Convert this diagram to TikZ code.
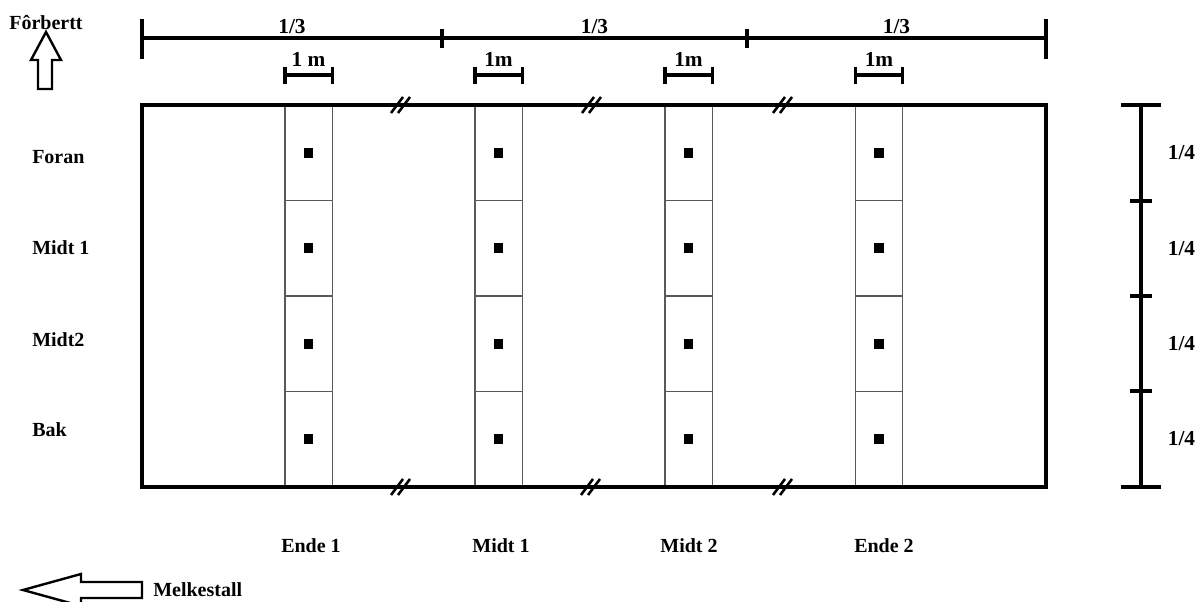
\documentclass[tikz,border=0pt]{standalone}
\usepackage{fontspec}
\setmainfont{Liberation Serif}
\usetikzlibrary{positioning}

\begin{document}
\begin{tikzpicture}[
            x=0.75pt, y=-0.75pt,
            lbl/.style={font=\fontsize{15}{17}\selectfont\bfseries, inner sep=0pt},
            num/.style={font=\fontsize{16}{19}\selectfont\bfseries, inner sep=1pt},
            field/.style={draw, line width=2.4pt},
            cell/.style={draw=black!65, line width=0.8pt, minimum width=35.3pt, minimum height=71.6pt, inner sep=0pt, outer sep=0pt},
            sample/.style={fill=black, minimum size=7.2pt, inner sep=0pt},
            dim/.style={line width=2.3pt},
            brk/.style={line width=1.9pt},
            blockarrow/.style={draw, line width=1.8pt, fill=white}
        ]

        \useasboundingbox (0,0) rectangle (1197,602);

        % sample cells, four strips of four
        \foreach \c/\x in {a/308.5, b/498.5, c/688.5, d/879}
            \foreach \r/\y in {1/152.75, 2/248.25, 3/343.75, 4/439.25}
            {
                \node[cell] (\c\r) at (\x,\y) {};
                \node[sample] at (\c\r.center) {};
            }

        \draw[field] (142,105) rectangle (1046,487);

        % break marks
        \foreach \x/\y in {400/105, 591/105, 782/105, 400/487, 590/487, 782/487}
        {
            \draw[brk] (\x-9,\y+8) -- ++(12,-16);
            \draw[brk] (\x-2,\y+8) -- ++(12,-16);
        }

        % length in thirds
        \coordinate (t0) at (142,38);
        \coordinate (t1) at (442,38);
        \coordinate (t2) at (747,38);
        \coordinate (t3) at (1046,38);
        \draw[dim] (t0) -- node[num, above=1pt] {1/3} (t1)
                        -- node[num, above=1pt] {1/3} (t2)
                        -- node[num, above=1pt] {1/3} (t3);
        \draw[dim] (t0) ++(0,-19) -- ++(0,40);
        \draw[dim] (t3) ++(0,-19) -- ++(0,40);
        \draw[dim] (t1) ++(0,-9) -- ++(0,19);
        \draw[dim] (t2) ++(0,-9) -- ++(0,19);

        % 1 m strips
        \coordinate (scaleY) at (0,75);
        \foreach \c/\t in {a/1 m, b/1m, c/1m, d/1m}
        {
            \draw[dim] (\c1.north west |- scaleY) -- node[num, above=4pt] {\t} (\c1.north east |- scaleY);
            \draw[dim] (\c1.north west |- scaleY) ++(0,-8) -- ++(0,17);
            \draw[dim] (\c1.north east |- scaleY) ++(0,-8) -- ++(0,17);
        }

        % width in quarters
        \coordinate (s0) at (1141,105);
        \coordinate (s1) at (1141,201);
        \coordinate (s2) at (1141,296);
        \coordinate (s3) at (1141,391);
        \coordinate (s4) at (1141,487);
        \draw[dim] (s0) -- node[num, right=18pt] {1/4} (s1)
                        -- node[num, right=18pt] {1/4} (s2)
                        -- node[num, right=18pt] {1/4} (s3)
                        -- node[num, right=18pt] {1/4} (s4);
        \draw[dim] (s0) ++(-20,0) -- ++(40,0);
        \draw[dim] (s4) ++(-20,0) -- ++(40,0);
        \draw[dim] (s1) ++(-11,0) -- ++(22,0);
        \draw[dim] (s2) ++(-11,0) -- ++(22,0);
        \draw[dim] (s3) ++(-11,0) -- ++(22,0);

        % row names
        \node[lbl, anchor=west] (foran) at (32,157) {Foran};
        \node[lbl, anchor=west] (midtA) at (32,248) {Midt 1};
        \node[lbl, anchor=west] (midtB) at (32,340) {Midt2};
        \node[lbl, anchor=west] (bak)   at (32,430) {Bak};

        % strip names
        \node[lbl] (ende1) at (311,546) {Ende 1};
        \node[lbl] (midt1) at (501,546) {Midt 1};
        \node[lbl] (midt2) at (689,546) {Midt 2};
        \node[lbl] (ende2) at (884,546) {Ende 2};

        % directions
        \node[lbl] (forbertt) at (46,23) {Fôrbertt};
        \draw[blockarrow] (46,32) -- (61,60) -- (52,60) -- (52,89) -- (38,89) -- (38,60) -- (31,60) -- cycle;

        \node[lbl, anchor=west] (melk) at (153,590) {Melkestall};
        \draw[blockarrow] (23,590) -- (81,574) -- (81,582) -- (142,582) -- (142,598) -- (81,598) -- (81,606) -- cycle;

    \end{tikzpicture}
\end{document}
